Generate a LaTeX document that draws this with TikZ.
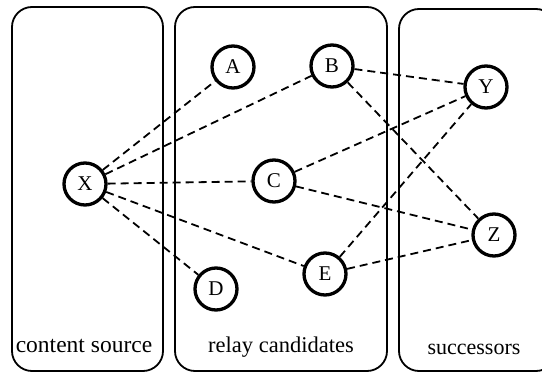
\documentclass[tikz,border=0pt]{standalone}
\usepackage{fontspec}
\setmainfont{Liberation Serif}
\begin{document}
\begin{tikzpicture}[x=1pt,y=-1pt,
  region/.style={draw=black,line width=1.8pt,rounded corners=20pt},
  peer/.style={circle,draw=black,line width=3.3pt,minimum size=42pt,inner sep=0pt,font=\fontsize{21}{24}\selectfont},
  link/.style={draw=black,line width=1.8pt,dash pattern=on 8pt off 5pt},
  regionlabel/.style={anchor=base,inner sep=0pt,font=\fontsize{22.5}{26}\selectfont}]
\useasboundingbox (0,0) rectangle (542,374);
\clip (0,0) rectangle (542,374);
\draw[region] (12,7) rectangle (163,371);
\draw[region] (175,7) rectangle (387,371);
\draw[region] (399,9) rectangle (556,371);
\node[regionlabel,font=\fontsize{23.5}{28}\selectfont] (lsrc) at (84,353) {content source};
\node[regionlabel] (lrel) at (281,353) {relay candidates};
\node[regionlabel,font=\fontsize{22}{26}\selectfont] (lsuc) at (474,355) {successors};
\node[peer] (X) at (85,184) {X};
\node[peer] (A) at (233,67) {A};
\node[peer] (B) at (332,66) {B};
\node[peer] (C) at (274,181) {C};
\node[peer] (D) at (216,289) {D};
\node[peer] (E) at (325,274) {E};
\node[peer] (Y) at (486,87) {Y};
\node[peer] (Z) at (494,235) {Z};
\draw[link] (X) -- (A);
\draw[link] (X) -- (B);
\draw[link] (X) -- (C);
\draw[link] (X) -- (D);
\draw[link] (X) -- (E);
\draw[link] (B) -- (Y);
\draw[link] (B) -- (Z);
\draw[link] (C) -- (Y);
\draw[link] (C) -- (Z);
\draw[link] (E) -- (Y);
\draw[link] (E) -- (Z);
\end{tikzpicture}
\end{document}
